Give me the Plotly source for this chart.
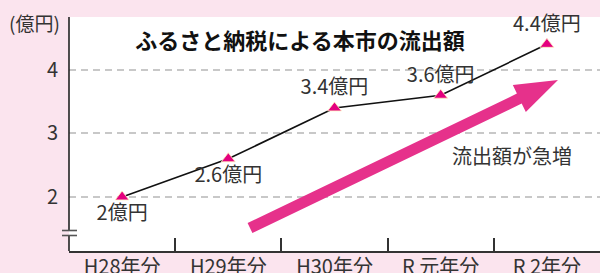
import plotly.graph_objects as go

categories = ["H28年分", "H29年分", "H30年分", "R 元年分", "R 2年分"]
values = [2.0, 2.6, 3.4, 3.6, 4.4]
value_labels = ["2億円", "2.6億円", "3.4億円", "3.6億円", "4.4億円"]
label_positions = ["bottom center", "bottom center", "top center", "top center", "top center"]
y_ticks = [2, 3, 4]

W, H = 600, 273
L, R, T, B = 69, 0, 17, 22
PW, PH = W - L - R, H - T - B
FONT = "Noto Sans CJK JP"
PINK_BG = "#fbe4ee"
MAGENTA = "#e4007f"
ARROW = "#e6318b"
TXT = "#333333"


def px(x, y):
    return (x - L) / PW, (H - B - y) / PH


fig = go.Figure()
fig.add_trace(go.Scatter(
    x=categories, y=values, mode="lines+markers+text",
    line=dict(color="#111111", width=1.6),
    marker=dict(symbol="triangle-up", size=12, color=MAGENTA,
                line=dict(color="#fff3c0", width=0.8)),
    text=value_labels, textposition=label_positions,
    textfont=dict(family=FONT, size=20, color=TXT),
    cliponaxis=False, showlegend=False, hoverinfo="skip",
))

# decorative arrow (pixel polygon -> paper)
pts = [(247.6, 223), (516.9, 93.6), (512.8, 85.1), (558, 80),
       (525.8, 112.1), (521.7, 103.6), (252.4, 233)]
path = "M " + " L ".join(f"{px(x, y)[0]:.4f},{px(x, y)[1]:.4f}" for x, y in pts) + " Z"
shapes = [dict(type="path", xref="paper", yref="paper", path=path,
               fillcolor=ARROW, line=dict(width=0), layer="above")]

# y axis line with break
for y0, y1 in [(17, 230.5), (235.5, 251)]:
    a = px(69, y0); b = px(69, y1)
    shapes.append(dict(type="line", xref="paper", yref="paper", x0=a[0], y0=a[1], x1=b[0], y1=b[1],
                       line=dict(color="#222222", width=1.6)))
for yy in [230.5, 235.5]:
    a = px(62, yy); b = px(77, yy)
    shapes.append(dict(type="line", xref="paper", yref="paper", x0=a[0], y0=a[1], x1=b[0], y1=b[1],
                       line=dict(color="#555555", width=1.6)))

annotations = []
ax, ay = px(34, 22)
annotations.append(dict(xref="paper", yref="paper", x=ax, y=ay, text="(億円)", showarrow=False,
                        xanchor="center", yanchor="middle",
                        font=dict(family=FONT, size=19, color=TXT)))
ax, ay = px(512, 155)
annotations.append(dict(xref="paper", yref="paper", x=ax, y=ay, text="流出額が急増", showarrow=False,
                        xanchor="center", yanchor="middle",
                        font=dict(family=FONT, size=20, color=TXT)))

fig.update_layout(
    width=W, height=H,
    margin=dict(l=L, r=R, t=T, b=B, pad=0, autoexpand=False),
    paper_bgcolor=PINK_BG, plot_bgcolor="white",
    title=dict(text="<b>ふるさと納税による本市の流出額</b>", x=300 / W, xanchor="center",
               y=1 - 41 / H, yanchor="middle", font=dict(family=FONT, size=22, color="#111111")),
    shapes=shapes, annotations=annotations,
    xaxis=dict(range=[-0.5, 4.5], showgrid=False, showline=True, linecolor="#333333", linewidth=2,
               ticks="inside", tickson="boundaries", ticklen=13, tickcolor="#333333", tickwidth=1.5,
               tickfont=dict(family=FONT, size=20, color=TXT), zeroline=False, automargin=False,
               ticklabelstandoff=-3),
    yaxis=dict(range=[1.15, 4.83], tickvals=y_ticks, showline=False, zeroline=False,
               showgrid=True, gridcolor="#c8c8c8", gridwidth=2, griddash="7px,5px",
               ticks="", ticklabelstandoff=10, automargin=False,
               tickfont=dict(family=FONT, size=20, color=TXT)),
)

fig.write_html("out.html", config={"displayModeBar": False},
               post_script="document.body.style.margin='0';")
